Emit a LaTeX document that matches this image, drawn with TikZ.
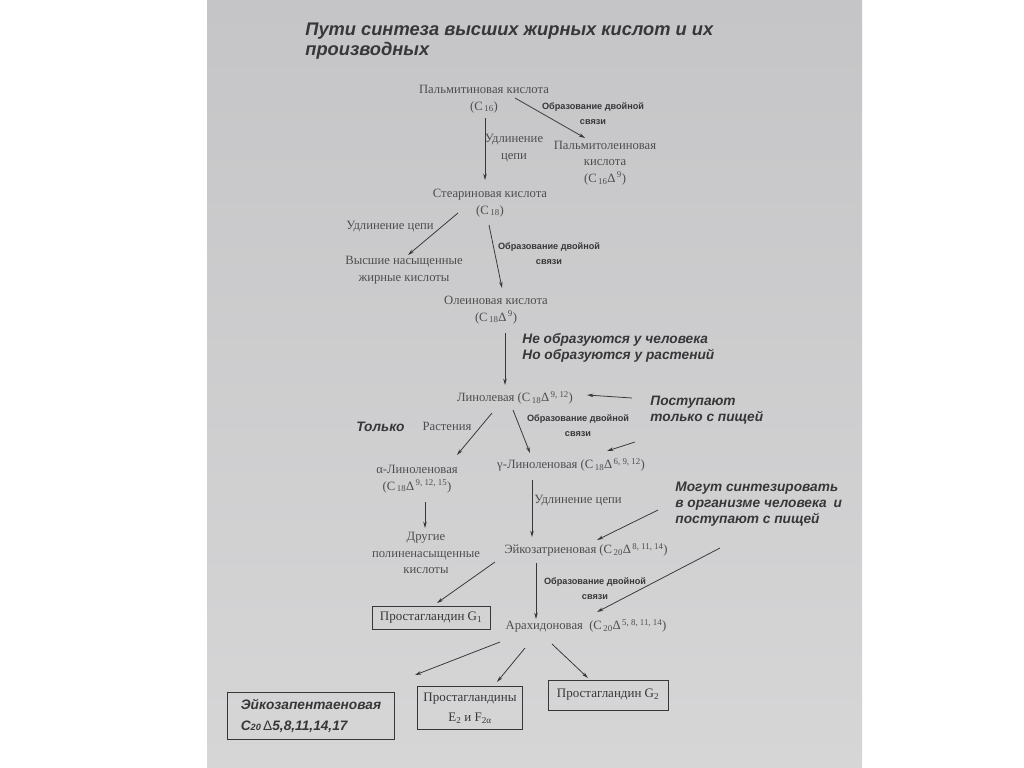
\documentclass[tikz,border=0pt]{standalone}
\usepackage{fontspec}
\setmainfont{Liberation Serif}
\newfontfamily\arialfont{Liberation Sans}
\usetikzlibrary{arrows.meta,calc,positioning}
\definecolor{pagetop}{RGB}{197,197,199}
\definecolor{pagebot}{RGB}{214,214,215}
\definecolor{ink}{RGB}{55,55,57}
\definecolor{inklight}{RGB}{78,78,80}

\begin{document}
\begin{tikzpicture}[x=0.5mm, y=-0.5mm, line width=1.1pt,
  >={Stealth[length=9pt,width=5pt]},
  txt/.style={inner sep=0pt, align=center, text=inklight, font=\fontsize{18}{23.5}\selectfont},
  lbl/.style={inner sep=0pt, align=center, text=ink, font=\arialfont\bfseries\fontsize{13}{21}\selectfont},
  note/.style={inner sep=0pt, align=left, anchor=west, text=ink, font=\arialfont\bfseries\itshape\fontsize{19.5}{23}\selectfont},
  ramka/.style={draw=ink, line width=1.4pt, inner sep=2pt, align=center, text=ink, font=\fontsize{18.5}{29}\selectfont},
  freccia/.style={->, draw=ink}]
\useasboundingbox (0,0) rectangle (1024,767);
\fill[white] (0,0) rectangle (1024,767);
\shade[top color=pagetop, bottom color=pagebot] (207,0) rectangle (862,767);

% titolo
\node[note, anchor=north west, font=\arialfont\bfseries\itshape\fontsize{26}{28}\selectfont] (titolo) at (305,23)
  {Пути синтеза высших жирных кислот и их\\производных};

% acidi
\node[txt] (palm)   at (484,99)  {Пальмитиновая кислота\\(C\textsubscript{\,16})};
\node[txt] (palmol) at (605,163) {Пальмитолеиновая\\кислота\\(C\textsubscript{\,16}Δ\textsuperscript{\,9})};
\node[txt] (stear)  at (490,203) {Стеариновая кислота\\(C\textsubscript{\,18})};
\node[txt] (satur)  at (404,270) {Высшие насыщенные\\жирные кислоты};
\node[txt] (olein)  at (496,310) {Олеиновая кислота\\(C\textsubscript{\,18}Δ\textsuperscript{\,9})};
\node[txt] (linol)  at (515,398) {Линолевая (C\textsubscript{\,18}Δ\textsuperscript{\,9,\ 12})};
\node[txt] (alin)   at (417,479) {α-Линоленовая\\(C\textsubscript{\,18}Δ\textsuperscript{\,9,\ 12,\ 15})};
\node[txt] (glin)   at (571,465) {γ-Линоленовая (C\textsubscript{\,18}Δ\textsuperscript{\,6,\ 9,\ 12})};
\node[txt] (altri)  at (426,553) {Другие\\полиненасыщенные\\кислоты};
\node[txt] (eicotri) at (586,550) {Эйкозатриеновая (C\textsubscript{\,20}Δ\textsuperscript{\,8,\ 11,\ 14})};
\node[txt] (arach)  at (586,626) {Арахидоновая\enspace(C\textsubscript{\,20}Δ\textsuperscript{\,5,\ 8,\ 11,\ 14})};

% prodotti finali
\node[ramka, minimum width=59mm, minimum height=11.5mm] (g1) at (431,618) {Простагландин G\textsubscript{1}};
\node[ramka, minimum width=83.5mm, minimum height=23.5mm, align=left,
  font=\arialfont\bfseries\itshape\fontsize{19.5}{30}\selectfont] (epa) at (311,716)
  {Эйкозапентаеновая\\C{\fontsize{13}{13}\selectfont 20}\,{\upshape\mdseries Δ}5,8,11,14,17};
\node[ramka, minimum width=52.5mm, minimum height=21.5mm] (e2f2) at (470,708) {Простагландины\\E\textsubscript{2} и F\textsubscript{2α}};
\node[ramka, minimum width=60mm, minimum height=15mm] (g2) at (608,695) {Простагландин G\textsubscript{2}};

% etichette delle frecce
\node[txt] (l1) at (514,148) {Удлинение\\цепи};
\node[lbl] (l2) at (593,114) {Образование двойной\\связи};
\node[txt] (l3) at (390,227) {Удлинение цепи};
\node[lbl] (l4) at (549,254) {Образование двойной\\связи};
\node[lbl] (l5) at (578,426) {Образование двойной\\связи};
\node[txt] (l6) at (447,426) {Растения};
\node[txt] (l7) at (578,501) {Удлинение цепи};
\node[lbl] (l8) at (595,589) {Образование двойной\\связи};

% note
\node[note] (n1) at (522,348) {Не образуются у человека\\Но образуются у растений};
\node[note] (n2) at (650,410) {Поступают\\только с пищей};
\node[note] (n3) at (356,427) {Только};
\node[note] (n4) at (675,504) {Могут синтезировать\\в организме человека\enspace и\\поступают с пищей};

% frecce
\draw[freccia] ($(palm)+(1,19)$) -- ($(stear)+(-5,-23)$);
\draw[freccia] ($(palm)+(31,-1)$) -- ($(palmol)+(-20,-25)$);
\draw[freccia] ($(stear)+(-32,10)$) -- ($(satur)+(4,-15)$);
\draw[freccia] ($(stear)+(-1,22)$) -- ($(olein)+(6,-22)$);
\draw[freccia] ($(olein)+(9,23)$) -- ($(linol)+(-10,-13)$);
\draw[freccia] ($(n2.west)+(-18,-12)$) -- ($(linol)+(72,-3)$);
\draw[freccia] ($(linol)+(-23,15)$) -- ($(alin)+(40,-24)$);
\draw[freccia] ($(linol)+(-2,12)$) -- ($(glin)+(-41,-12)$);
\draw[freccia] ($(n2.west)+(-15,32)$) -- ($(glin)+(36,-14)$);
\draw[freccia] ($(alin)+(8,23)$) -- ($(altri)+(-1,-25)$);
\draw[freccia] ($(glin)+(-39,15)$) -- ($(eicotri)+(-54,-13)$);
\draw[freccia] ($(n4.west)+(-17,6)$) -- ($(eicotri)+(11,-10)$);
\draw[freccia] ($(n4.west)+(45,44)$) -- ($(arach)+(11,-14)$);
\draw[freccia] ($(eicotri)+(-91,12)$) -- ($(g1)+(6,-15)$);
\draw[freccia] ($(eicotri)+(-50,13)$) -- ($(arach)+(-50,-7)$);
\draw[freccia] ($(arach)+(-86,16)$) -- ($(epa)+(104,-41)$);
\draw[freccia] ($(arach)+(-61,22)$) -- ($(e2f2)+(27,-26)$);
\draw[freccia] ($(arach)+(-34,18)$) -- ($(g2)+(-20,-17)$);
\end{tikzpicture}
\end{document}
